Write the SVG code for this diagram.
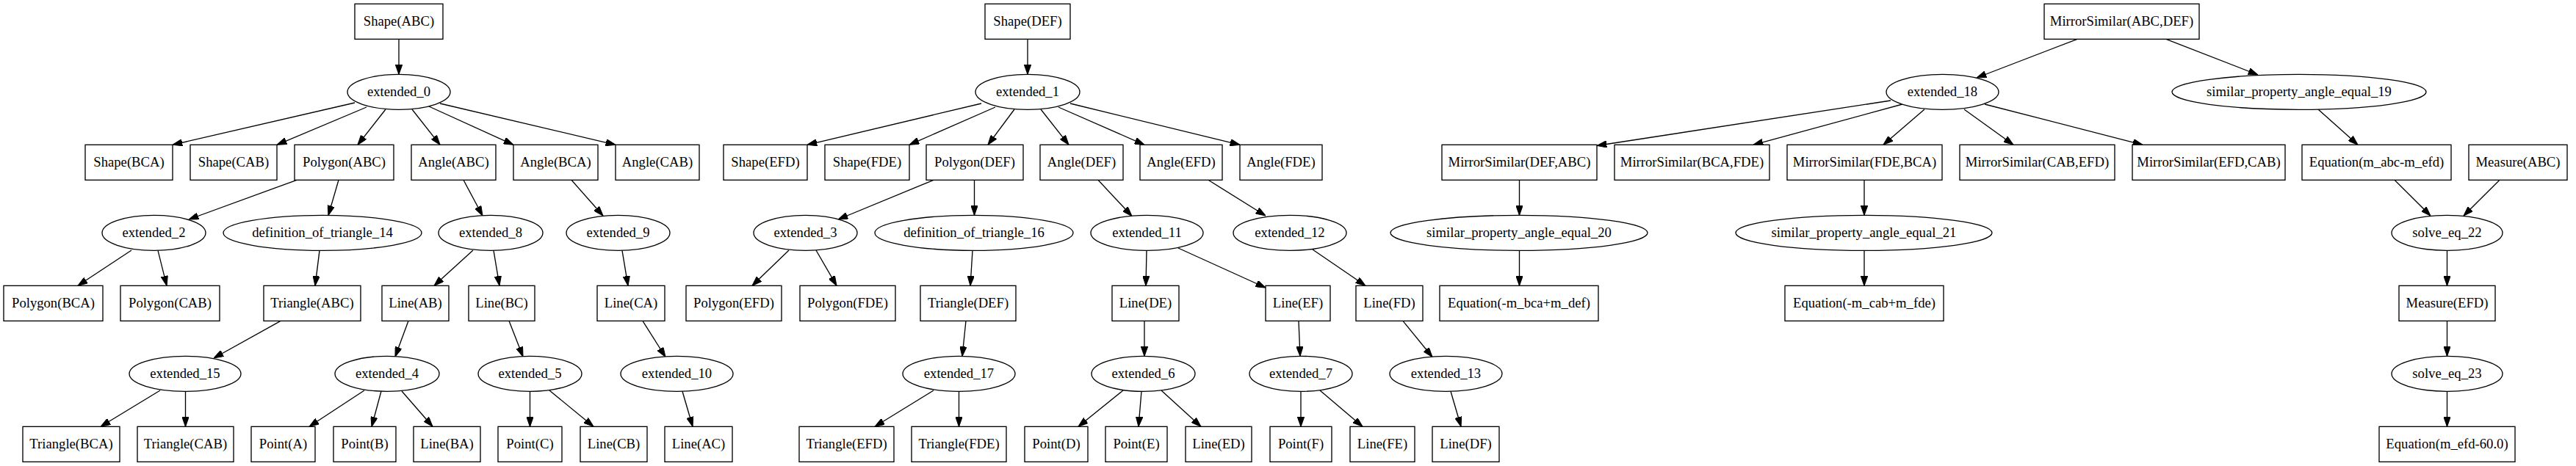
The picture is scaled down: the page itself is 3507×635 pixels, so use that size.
<svg xmlns="http://www.w3.org/2000/svg" width="3507" height="635" viewBox="0 0 3507 635">
<style>
rect,ellipse{fill:#fff;stroke:#000;stroke-width:1.33}
text{font-family:"Liberation Serif","Times New Roman",serif;font-size:18.67px;text-anchor:middle;fill:#000}
#edges line{stroke:#000;stroke-width:1.33;marker-end:url(#ah)}
</style>
<defs>
<marker id="ah" viewBox="0 0 10 7" refX="10" refY="3.5" markerWidth="13.33" markerHeight="9.33" markerUnits="userSpaceOnUse" orient="auto">
<path d="M0,0 L10,3.5 L0,7 z" fill="#000" stroke="#000" stroke-width="0.8"/>
</marker>
</defs>
<rect x="0" y="0" width="3507" height="635" style="stroke:none"/>
<g id="edges">
<line x1="543" y1="53.3" x2="543" y2="101.3"/>
<line x1="483" y1="140" x2="235" y2="197.3"/>
<line x1="499" y1="146" x2="377" y2="197.3"/>
<line x1="525" y1="149" x2="487" y2="197.3"/>
<line x1="561" y1="149" x2="599" y2="197.3"/>
<line x1="584" y1="145" x2="699" y2="197.3"/>
<line x1="599" y1="141" x2="838" y2="197.3"/>
<line x1="404" y1="245.3" x2="257" y2="299"/>
<line x1="461" y1="245.3" x2="447" y2="293.5"/>
<line x1="179" y1="341" x2="106" y2="389.3"/>
<line x1="215" y1="341.3" x2="227" y2="389.3"/>
<line x1="435" y1="341.3" x2="429" y2="389.3"/>
<line x1="382" y1="437.3" x2="291" y2="488"/>
<line x1="218" y1="532" x2="137" y2="581.3"/>
<line x1="252.5" y1="533.3" x2="252.5" y2="581.3"/>
<line x1="631" y1="245.3" x2="657" y2="294"/>
<line x1="644" y1="341" x2="591" y2="389.3"/>
<line x1="672" y1="341.3" x2="680" y2="389.3"/>
<line x1="556" y1="437.3" x2="538" y2="486"/>
<line x1="496" y1="532" x2="421" y2="581.3"/>
<line x1="519" y1="533" x2="506" y2="581.3"/>
<line x1="547" y1="533" x2="589" y2="581.3"/>
<line x1="693" y1="437.3" x2="712" y2="486"/>
<line x1="721.5" y1="533.3" x2="721.5" y2="581.3"/>
<line x1="748" y1="532" x2="808" y2="581.3"/>
<line x1="778" y1="245.3" x2="821" y2="294"/>
<line x1="847" y1="341.3" x2="855" y2="389.3"/>
<line x1="875" y1="437.3" x2="906" y2="486.5"/>
<line x1="929" y1="533.3" x2="943" y2="581.3"/>
<line x1="1399" y1="53.3" x2="1399" y2="101.3"/>
<line x1="1336" y1="141" x2="1099" y2="197.3"/>
<line x1="1355" y1="146" x2="1238" y2="197.3"/>
<line x1="1381" y1="149" x2="1345" y2="197.3"/>
<line x1="1417" y1="149" x2="1455" y2="197.3"/>
<line x1="1441" y1="146" x2="1558" y2="197.3"/>
<line x1="1457" y1="141" x2="1688" y2="197.3"/>
<line x1="1271" y1="245.3" x2="1141" y2="299"/>
<line x1="1326.5" y1="245.3" x2="1326.5" y2="293.3"/>
<line x1="1074" y1="341" x2="1024" y2="389.3"/>
<line x1="1111" y1="341" x2="1139" y2="389.3"/>
<line x1="1324" y1="341.3" x2="1321" y2="389.3"/>
<line x1="1315" y1="437.3" x2="1310" y2="485.5"/>
<line x1="1271" y1="532" x2="1191" y2="581.3"/>
<line x1="1305.5" y1="533.3" x2="1305.5" y2="581.3"/>
<line x1="1495" y1="245.3" x2="1541" y2="294.5"/>
<line x1="1561" y1="341.3" x2="1560" y2="389.3"/>
<line x1="1604" y1="338" x2="1723" y2="392"/>
<line x1="1558" y1="437.3" x2="1558" y2="485.3"/>
<line x1="1529" y1="532" x2="1468" y2="581.3"/>
<line x1="1554" y1="533.3" x2="1550" y2="581.3"/>
<line x1="1581" y1="532" x2="1635" y2="581.3"/>
<line x1="1645" y1="245.3" x2="1723" y2="294"/>
<line x1="1787" y1="340" x2="1859" y2="389.3"/>
<line x1="1768" y1="437.3" x2="1770" y2="485.3"/>
<line x1="1771" y1="533.3" x2="1771" y2="581.3"/>
<line x1="1797" y1="532" x2="1855" y2="581.3"/>
<line x1="1910" y1="437.3" x2="1950" y2="486.5"/>
<line x1="1975" y1="533.3" x2="1989" y2="581.3"/>
<line x1="2828" y1="53.3" x2="2691" y2="106"/>
<line x1="2949" y1="53.3" x2="3074" y2="102"/>
<line x1="2574" y1="137" x2="2174" y2="198.5"/>
<line x1="2590" y1="142" x2="2387" y2="197.3"/>
<line x1="2620" y1="149" x2="2564" y2="197.3"/>
<line x1="2674" y1="149" x2="2741" y2="197.3"/>
<line x1="2702" y1="142" x2="2917" y2="197.3"/>
<line x1="2068.5" y1="245.3" x2="2068.5" y2="293.3"/>
<line x1="2068.5" y1="341.3" x2="2068.5" y2="389.3"/>
<line x1="2538" y1="245.3" x2="2538" y2="293.3"/>
<line x1="2538" y1="341.3" x2="2538" y2="389.3"/>
<line x1="3156" y1="149" x2="3210" y2="197.3"/>
<line x1="3260" y1="245.3" x2="3309" y2="294"/>
<line x1="3403" y1="245.3" x2="3354" y2="294"/>
<line x1="3331.5" y1="341.3" x2="3331.5" y2="389.3"/>
<line x1="3331.5" y1="437.3" x2="3331.5" y2="485.3"/>
<line x1="3331.5" y1="533.3" x2="3331.5" y2="581.3"/>
</g>
<g id="n_shape_abc"><rect x="483" y="5.33" width="120" height="48"/><text x="543" y="35.3">Shape(ABC)</text></g>
<g id="n_shape_def"><rect x="1341" y="5.33" width="116" height="48"/><text x="1399" y="35.3">Shape(DEF)</text></g>
<g id="n_ms_abc_def"><rect x="2783" y="5.33" width="211" height="48"/><text x="2888.5" y="35.3">MirrorSimilar(ABC,DEF)</text></g>
<g id="n_extended_0"><ellipse cx="543" cy="125.33" rx="70" ry="24"/><text x="543" y="131.3">extended_0</text></g>
<g id="n_extended_1"><ellipse cx="1399" cy="125.33" rx="71" ry="24"/><text x="1399" y="131.3">extended_1</text></g>
<g id="n_extended_18"><ellipse cx="2644.5" cy="125.33" rx="76.5" ry="24"/><text x="2644.5" y="131.3">extended_18</text></g>
<g id="n_spae_19"><ellipse cx="3130" cy="125.33" rx="173" ry="24"/><text x="3130" y="131.3">similar_property_angle_equal_19</text></g>
<g id="n_shape_bca"><rect x="116" y="197.33" width="119" height="48"/><text x="175.5" y="227.3">Shape(BCA)</text></g>
<g id="n_shape_cab"><rect x="259" y="197.33" width="118" height="48"/><text x="318" y="227.3">Shape(CAB)</text></g>
<g id="n_polygon_abc"><rect x="401" y="197.33" width="135" height="48"/><text x="468.5" y="227.3">Polygon(ABC)</text></g>
<g id="n_angle_abc"><rect x="560" y="197.33" width="115" height="48"/><text x="617.5" y="227.3">Angle(ABC)</text></g>
<g id="n_angle_bca"><rect x="699" y="197.33" width="115" height="48"/><text x="756.5" y="227.3">Angle(BCA)</text></g>
<g id="n_angle_cab"><rect x="838" y="197.33" width="114" height="48"/><text x="895" y="227.3">Angle(CAB)</text></g>
<g id="n_shape_efd"><rect x="985" y="197.33" width="114" height="48"/><text x="1042" y="227.3">Shape(EFD)</text></g>
<g id="n_shape_fde"><rect x="1123" y="197.33" width="115" height="48"/><text x="1180.5" y="227.3">Shape(FDE)</text></g>
<g id="n_polygon_def"><rect x="1261" y="197.33" width="132" height="48"/><text x="1327" y="227.3">Polygon(DEF)</text></g>
<g id="n_angle_def"><rect x="1416" y="197.33" width="113" height="48"/><text x="1472.5" y="227.3">Angle(DEF)</text></g>
<g id="n_angle_efd"><rect x="1552" y="197.33" width="112" height="48"/><text x="1608" y="227.3">Angle(EFD)</text></g>
<g id="n_angle_fde"><rect x="1688" y="197.33" width="112" height="48"/><text x="1744" y="227.3">Angle(FDE)</text></g>
<g id="n_ms_def_abc"><rect x="1963" y="197.33" width="211" height="48"/><text x="2068.5" y="227.3">MirrorSimilar(DEF,ABC)</text></g>
<g id="n_ms_bca_fde"><rect x="2198" y="197.33" width="211" height="48"/><text x="2303.5" y="227.3">MirrorSimilar(BCA,FDE)</text></g>
<g id="n_ms_fde_bca"><rect x="2433" y="197.33" width="211" height="48"/><text x="2538.5" y="227.3">MirrorSimilar(FDE,BCA)</text></g>
<g id="n_ms_cab_efd"><rect x="2668" y="197.33" width="211" height="48"/><text x="2773.5" y="227.3">MirrorSimilar(CAB,EFD)</text></g>
<g id="n_ms_efd_cab"><rect x="2903" y="197.33" width="208" height="48"/><text x="3007" y="227.3">MirrorSimilar(EFD,CAB)</text></g>
<g id="n_eq_abc_efd"><rect x="3134" y="197.33" width="203" height="48"/><text x="3235.5" y="227.3">Equation(m_abc-m_efd)</text></g>
<g id="n_measure_abc"><rect x="3361" y="197.33" width="134" height="48"/><text x="3428" y="227.3">Measure(ABC)</text></g>
<g id="n_extended_2"><ellipse cx="209.5" cy="317.33" rx="70.5" ry="24"/><text x="209.5" y="323.3">extended_2</text></g>
<g id="n_dot_14"><ellipse cx="439" cy="317.33" rx="135" ry="24"/><text x="439" y="323.3">definition_of_triangle_14</text></g>
<g id="n_extended_8"><ellipse cx="668" cy="317.33" rx="71" ry="24"/><text x="668" y="323.3">extended_8</text></g>
<g id="n_extended_9"><ellipse cx="841.5" cy="317.33" rx="70.5" ry="24"/><text x="841.5" y="323.3">extended_9</text></g>
<g id="n_extended_3"><ellipse cx="1096.5" cy="317.33" rx="70.5" ry="24"/><text x="1096.5" y="323.3">extended_3</text></g>
<g id="n_dot_16"><ellipse cx="1326" cy="317.33" rx="135" ry="24"/><text x="1326" y="323.3">definition_of_triangle_16</text></g>
<g id="n_extended_11"><ellipse cx="1561.5" cy="317.33" rx="76.5" ry="24"/><text x="1561.5" y="323.3">extended_11</text></g>
<g id="n_extended_12"><ellipse cx="1756" cy="317.33" rx="77" ry="24"/><text x="1756" y="323.3">extended_12</text></g>
<g id="n_spae_20"><ellipse cx="2068" cy="317.33" rx="175" ry="24"/><text x="2068" y="323.3">similar_property_angle_equal_20</text></g>
<g id="n_spae_21"><ellipse cx="2537.5" cy="317.33" rx="174.5" ry="24"/><text x="2537.5" y="323.3">similar_property_angle_equal_21</text></g>
<g id="n_solve_eq_22"><ellipse cx="3331.5" cy="317.33" rx="75.5" ry="24"/><text x="3331.5" y="323.3">solve_eq_22</text></g>
<g id="n_polygon_bca"><rect x="5" y="389.33" width="135" height="48"/><text x="72.5" y="419.3">Polygon(BCA)</text></g>
<g id="n_polygon_cab"><rect x="164" y="389.33" width="135" height="48"/><text x="231.5" y="419.3">Polygon(CAB)</text></g>
<g id="n_triangle_abc"><rect x="359" y="389.33" width="132" height="48"/><text x="425" y="419.3">Triangle(ABC)</text></g>
<g id="n_line_ab"><rect x="520" y="389.33" width="91" height="48"/><text x="565.5" y="419.3">Line(AB)</text></g>
<g id="n_line_bc"><rect x="638" y="389.33" width="90" height="48"/><text x="683" y="419.3">Line(BC)</text></g>
<g id="n_line_ca"><rect x="813" y="389.33" width="92" height="48"/><text x="859" y="419.3">Line(CA)</text></g>
<g id="n_polygon_efd"><rect x="934" y="389.33" width="130" height="48"/><text x="999" y="419.3">Polygon(EFD)</text></g>
<g id="n_polygon_fde"><rect x="1089" y="389.33" width="130" height="48"/><text x="1154" y="419.3">Polygon(FDE)</text></g>
<g id="n_triangle_def"><rect x="1253" y="389.33" width="130" height="48"/><text x="1318" y="419.3">Triangle(DEF)</text></g>
<g id="n_line_de"><rect x="1514" y="389.33" width="91" height="48"/><text x="1559.5" y="419.3">Line(DE)</text></g>
<g id="n_line_ef"><rect x="1723" y="389.33" width="88" height="48"/><text x="1767" y="419.3">Line(EF)</text></g>
<g id="n_line_fd"><rect x="1846" y="389.33" width="91" height="48"/><text x="1891.5" y="419.3">Line(FD)</text></g>
<g id="n_eq_bca_def"><rect x="1960" y="389.33" width="216" height="48"/><text x="2068" y="419.3">Equation(-m_bca+m_def)</text></g>
<g id="n_eq_cab_fde"><rect x="2430" y="389.33" width="216" height="48"/><text x="2538" y="419.3">Equation(-m_cab+m_fde)</text></g>
<g id="n_measure_efd"><rect x="3266" y="389.33" width="131" height="48"/><text x="3331.5" y="419.3">Measure(EFD)</text></g>
<g id="n_extended_15"><ellipse cx="252" cy="509.33" rx="76" ry="24"/><text x="252" y="515.3">extended_15</text></g>
<g id="n_extended_4"><ellipse cx="527" cy="509.33" rx="71" ry="24"/><text x="527" y="515.3">extended_4</text></g>
<g id="n_extended_5"><ellipse cx="721.5" cy="509.33" rx="70.5" ry="24"/><text x="721.5" y="515.3">extended_5</text></g>
<g id="n_extended_10"><ellipse cx="921.5" cy="509.33" rx="76.5" ry="24"/><text x="921.5" y="515.3">extended_10</text></g>
<g id="n_extended_17"><ellipse cx="1305.5" cy="509.33" rx="76.5" ry="24"/><text x="1305.5" y="515.3">extended_17</text></g>
<g id="n_extended_6"><ellipse cx="1556.5" cy="509.33" rx="70.5" ry="24"/><text x="1556.5" y="515.3">extended_6</text></g>
<g id="n_extended_7"><ellipse cx="1771" cy="509.33" rx="70" ry="24"/><text x="1771" y="515.3">extended_7</text></g>
<g id="n_extended_13"><ellipse cx="1968.5" cy="509.33" rx="76.5" ry="24"/><text x="1968.5" y="515.3">extended_13</text></g>
<g id="n_solve_eq_23"><ellipse cx="3331.5" cy="509.33" rx="75.5" ry="24"/><text x="3331.5" y="515.3">solve_eq_23</text></g>
<g id="n_triangle_bca"><rect x="31" y="581.33" width="132" height="48"/><text x="97" y="611.3">Triangle(BCA)</text></g>
<g id="n_triangle_cab"><rect x="187" y="581.33" width="131" height="48"/><text x="252.5" y="611.3">Triangle(CAB)</text></g>
<g id="n_point_a"><rect x="342" y="581.33" width="87" height="48"/><text x="385.5" y="611.3">Point(A)</text></g>
<g id="n_point_b"><rect x="454" y="581.33" width="85" height="48"/><text x="496.5" y="611.3">Point(B)</text></g>
<g id="n_line_ba"><rect x="563" y="581.33" width="91" height="48"/><text x="608.5" y="611.3">Line(BA)</text></g>
<g id="n_point_c"><rect x="678" y="581.33" width="87" height="48"/><text x="721.5" y="611.3">Point(C)</text></g>
<g id="n_line_cb"><rect x="790" y="581.33" width="91" height="48"/><text x="835.5" y="611.3">Line(CB)</text></g>
<g id="n_line_ac"><rect x="905" y="581.33" width="92" height="48"/><text x="951" y="611.3">Line(AC)</text></g>
<g id="n_triangle_efd"><rect x="1088" y="581.33" width="129" height="48"/><text x="1152.5" y="611.3">Triangle(EFD)</text></g>
<g id="n_triangle_fde"><rect x="1241" y="581.33" width="129" height="48"/><text x="1305.5" y="611.3">Triangle(FDE)</text></g>
<g id="n_point_d"><rect x="1395" y="581.33" width="86" height="48"/><text x="1438" y="611.3">Point(D)</text></g>
<g id="n_point_e"><rect x="1505" y="581.33" width="84" height="48"/><text x="1547" y="611.3">Point(E)</text></g>
<g id="n_line_ed"><rect x="1614" y="581.33" width="90" height="48"/><text x="1659" y="611.3">Line(ED)</text></g>
<g id="n_point_f"><rect x="1729" y="581.33" width="84" height="48"/><text x="1771" y="611.3">Point(F)</text></g>
<g id="n_line_fe"><rect x="1838" y="581.33" width="88" height="48"/><text x="1882" y="611.3">Line(FE)</text></g>
<g id="n_line_df"><rect x="1950" y="581.33" width="91" height="48"/><text x="1995.5" y="611.3">Line(DF)</text></g>
<g id="n_eq_efd_60"><rect x="3239" y="581.33" width="185" height="48"/><text x="3331.5" y="611.3">Equation(m_efd-60.0)</text></g>
</svg>
